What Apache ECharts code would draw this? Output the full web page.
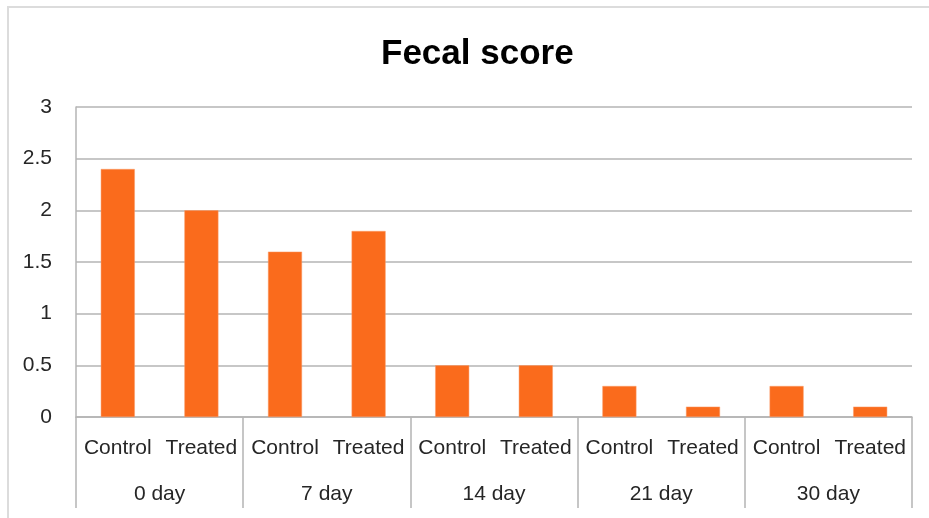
<!DOCTYPE html>
<html>
<head>
<meta charset="utf-8">
<script src="https://cdn.jsdelivr.net/npm/echarts@6/dist/echarts.min.js"></script>
<style>
  html, body {margin: 0; padding: 0; background: #fff;}
  #frame {position: absolute; left: 7px; top: 6px; width: 940px; height: 530px;
    border-top: 2px solid #dcdcdc; border-left: 2px solid #dcdcdc;}
  #main {position: absolute; left: 0; top: 0; width: 929px; height: 518px;}
</style>
</head>
<body>
<div id="frame"></div>
<div id="main"></div>
<script>
// 数据
var groups = ["0 day", "7 day", "14 day", "21 day", "30 day"];
var subLabels = ["Control", "Treated"];
var controlScore = [2.4, 1.6, 0.5, 0.3, 0.3];
var treatedScore = [2.0, 1.8, 0.5, 0.1, 0.1];
var yTicks = [0, 0.5, 1, 1.5, 2, 2.5, 3];

// 两层x轴：每组 Control / Treated
var category = [], values = [];
for (var i = 0; i < groups.length; i++) {
  category.push(subLabels[0], subLabels[1]);
  values.push(controlScore[i], treatedScore[i]);
}

var lineColor = "#b4b4b4";
var font = "'Liberation Sans', Arial, sans-serif";

var myChart = echarts.init(document.getElementById("main"));
var option = {
  animation: false,
  title: {
    text: "Fecal score",
    left: 376,
    top: 32,
    textStyle: {color: "#000", fontSize: 35, fontWeight: "bold", fontFamily: font}
  },
  grid: {left: 76, right: 17, top: 107, bottom: 101},
  xAxis: [{
    type: "category",
    data: category,
    axisLine: {show: true, lineStyle: {color: lineColor, width: 1.5}},
    axisTick: {show: false},
    axisLabel: {interval: 0, margin: 21, color: "#262626", fontSize: 21, fontFamily: font}
  }, {
    type: "category",
    position: "bottom",
    data: groups,
    axisLine: {show: false},
    axisTick: {show: true, length: 91, lineStyle: {color: lineColor, width: 1.5}},
    axisLabel: {interval: 0, margin: 67, color: "#262626", fontSize: 21, fontFamily: font}
  }],
  yAxis: {
    type: "value",
    min: yTicks[0],
    max: yTicks[yTicks.length - 1],
    interval: 0.5,
    axisLine: {show: true, lineStyle: {color: lineColor, width: 1.5}},
    axisTick: {show: false},
    axisLabel: {margin: 24, color: "#262626", fontSize: 21, fontFamily: font},
    splitLine: {show: true, lineStyle: {color: lineColor, width: 1.5}}
  },
  series: [{
    type: "bar",
    xAxisIndex: 0,
    data: values,
    barWidth: 34,
    itemStyle: {color: "#fa6b1c", borderColor: "#fb9a66", borderWidth: 0.5}
  }]
};
myChart.setOption(option, true);
</script>
</body>
</html>
